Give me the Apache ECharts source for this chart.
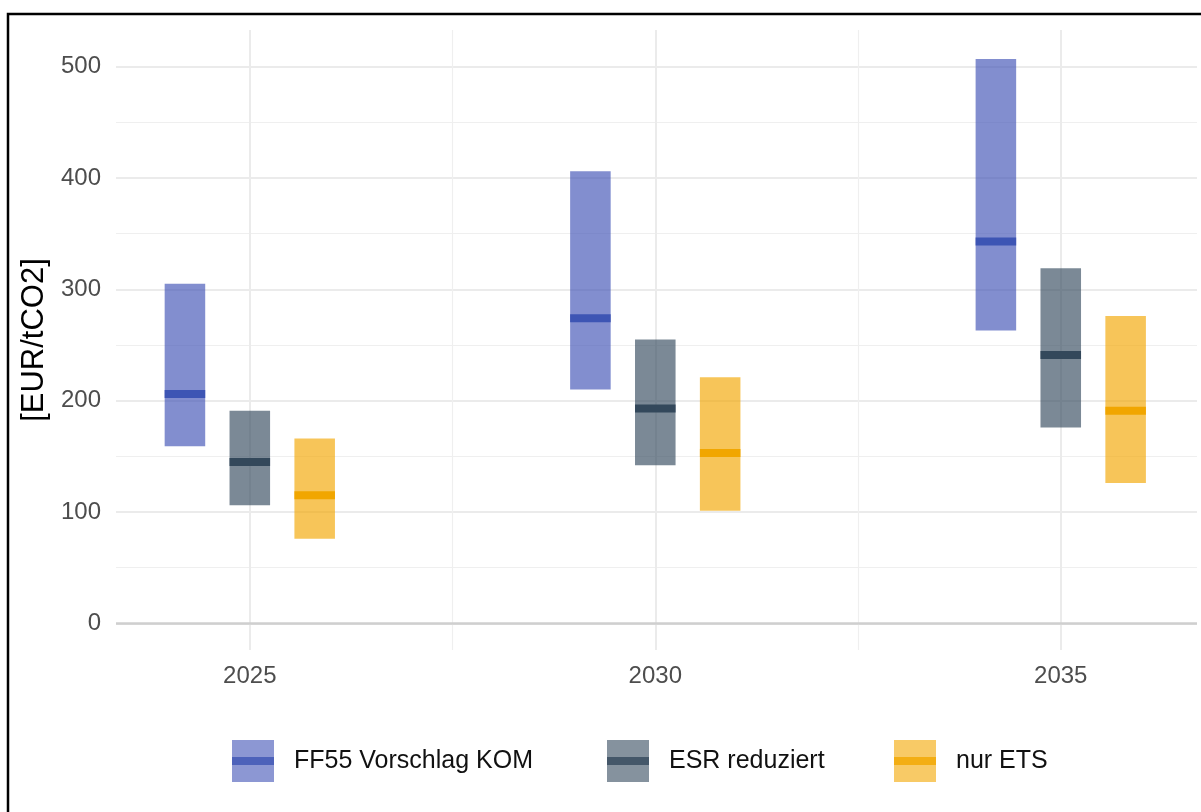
<!DOCTYPE html>
<html><head><meta charset="utf-8">
<script src="https://cdn.jsdelivr.net/npm/echarts@6/dist/echarts.min.js"></script>
<style>html,body{margin:0;padding:0;background:#fff}#c{width:1201px;height:812px}</style>
</head><body><div id="c"></div>
<script>
const years = [2025, 2030, 2035];
const seriesNames = ['FF55 Vorschlag KOM', 'ESR reduziert', 'nur ETS'];
const ff55Low = [159, 210, 263];
const ff55High = [305, 406, 507];
const ff55Mid = [206, 274, 343];
const esrLow = [106, 142, 176];
const esrHigh = [191, 255, 319];
const esrMid = [145, 193, 241];
const etsLow = [76, 101, 126];
const etsHigh = [166, 221, 276];
const etsMid = [115, 153, 191];
const yTicks = [0, 100, 200, 300, 400, 500];
const yMinor = [50, 150, 250, 350, 450];
const xMinor = [2027.5, 2032.5];

const FONT = 'Liberation Sans, Arial, sans-serif';
const fills = ['rgba(63,81,181,0.65)', 'rgba(52,73,94,0.65)', 'rgba(243,166,0,0.65)'];
const lines = ['#3d55b4', '#33485b', '#f1a600'];

function makeSeries(idx, low, high, mid) {
  const data = years.map((y, i) => [y, low[i], high[i], mid[i]]);
  const s = {
    type: 'custom', name: seriesNames[idx], data: data,
    encode: { x: 0, y: [1, 2] },
    itemStyle: { color: fills[idx] },
    silent: true,
    renderItem: function (params, api) {
      const x = api.value(0) + (idx - 1) * 0.8;
      const a = api.coord([x - 0.25, api.value(1)]);
      const b = api.coord([x + 0.25, api.value(2)]);
      const m = api.coord([x, api.value(3)]);
      const w = b[0] - a[0];
      return { type: 'group', children: [
        { type: 'rect', shape: { x: a[0], y: b[1], width: w, height: a[1] - b[1] }, style: { fill: fills[idx] } },
        { type: 'rect', shape: { x: a[0], y: m[1] - 4, width: w, height: 8 }, style: { fill: lines[idx] } }
      ]};
    }
  };
  if (idx === 0) {
    s.markLine = { silent: true, symbol: ['none', 'none'], label: { show: false },
      lineStyle: { color: '#cfcfcf', width: 2.5, type: 'solid' }, data: [{ yAxis: 0 }], z: 1 };
  }
  return s;
}

const legendX = [232, 607, 894];
const legendChildren = [];
seriesNames.forEach((n, i) => {
  legendChildren.push({ type: 'rect', shape: { x: legendX[i], y: 740, width: 42, height: 42 }, style: { fill: fills[i].replace('0.65', '0.6') } });
  legendChildren.push({ type: 'rect', shape: { x: legendX[i], y: 757, width: 42, height: 8 }, style: { fill: lines[i], opacity: 0.8 } });
  legendChildren.push({ type: 'text', x: legendX[i] + 62, y: 761, style: { text: n, font: '25px ' + FONT, fill: '#111', verticalAlign: 'middle' } });
});

const chart = echarts.init(document.getElementById('c'), null, { renderer: 'canvas' });
chart.setOption({
  animation: false,
  backgroundColor: '#fff',
  grid: { left: 116, right: 4, top: 30, bottom: 162 },
  xAxis: [
    { type: 'value', min: 2023.35, max: 2036.68,
      axisLine: { show: false }, axisTick: { show: false, customValues: years },
      axisLabel: { customValues: years, formatter: v => String(v), fontSize: 24, fontFamily: FONT, color: '#4d4d4d', margin: 14 },
      splitLine: { show: true, lineStyle: { color: '#ebebeb', width: 2 } } },
    { type: 'value', min: 2023.35, max: 2036.68, position: 'top',
      axisLine: { show: false }, axisTick: { show: false, customValues: xMinor },
      axisLabel: { show: false, customValues: xMinor },
      splitLine: { show: true, lineStyle: { color: '#efefef', width: 1.2 } } }
  ],
  yAxis: [
    { type: 'value', min: -24, max: 533,
      name: '[EUR/tCO2]', nameLocation: 'middle', nameRotate: 90, nameGap: 62,
      nameTextStyle: { fontSize: 31, fontFamily: FONT, color: '#000' },
      axisLine: { show: false }, axisTick: { show: false, customValues: yTicks },
      axisLabel: { customValues: yTicks, fontSize: 24, fontFamily: FONT, color: '#4d4d4d', margin: 15 },
      splitLine: { show: true, lineStyle: { color: '#ebebeb', width: 2 } } },
    { type: 'value', min: -24, max: 533, position: 'right',
      axisLine: { show: false }, axisTick: { show: false, customValues: yMinor },
      axisLabel: { show: false, customValues: yMinor },
      splitLine: { show: true, lineStyle: { color: '#efefef', width: 1.2 } } }
  ],
  series: [
    makeSeries(0, ff55Low, ff55High, ff55Mid),
    makeSeries(1, esrLow, esrHigh, esrMid),
    makeSeries(2, etsLow, etsHigh, etsMid)
  ],
  graphic: [
    { type: 'group', children: legendChildren },
    { type: 'rect', shape: { x: 8, y: 14, width: 1300, height: 900 }, style: { fill: 'none', stroke: '#000', lineWidth: 2.5 }, silent: true }
  ]
});
</script></body></html>
